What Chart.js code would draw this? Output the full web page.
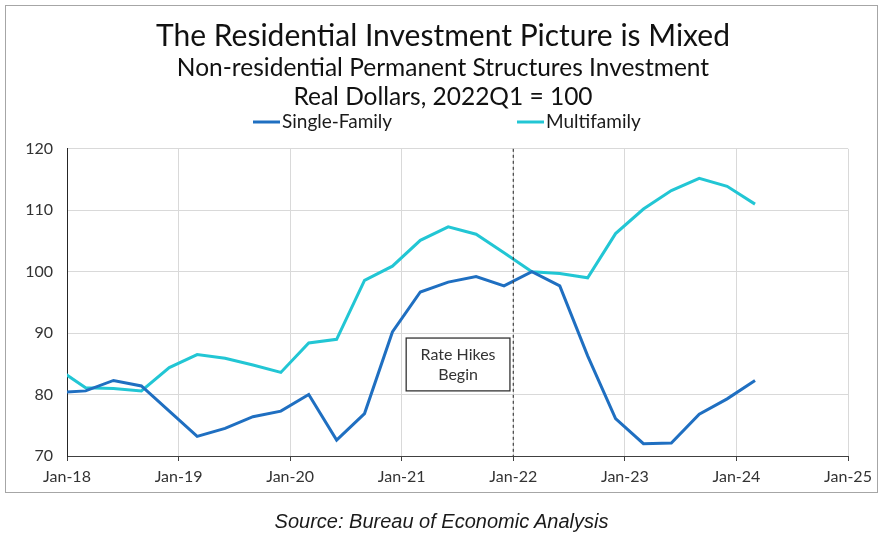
<!DOCTYPE html>
<html>
<head>
<meta charset="utf-8">
<script src="https://cdn.jsdelivr.net/npm/chart.js@4"></script>
<style>
  html, body { margin: 0; padding: 0; background: #fff; }
  #wrap { position: relative; width: 883px; height: 545px; }
  #chart { position: absolute; left: 0; top: 0; }
  #source {
    position: absolute; left: 0; top: 510px; width: 883px; text-align: center;
    font: italic 20px "Liberation Sans", Arial, sans-serif; color: #1a1a1a;
  }
</style>
</head>
<body>
<div id="wrap">
  <canvas id="chart" width="883" height="545"></canvas>
  <div id="source">Source: Bureau of Economic Analysis</div>
</div>
<script>
(function () {
  "use strict";

  // quarterly data, 2022Q1 = 100
  const quarters = [
    "2017Q4",
    "2018Q1", "2018Q2", "2018Q3", "2018Q4",
    "2019Q1", "2019Q2", "2019Q3", "2019Q4",
    "2020Q1", "2020Q2", "2020Q3", "2020Q4",
    "2021Q1", "2021Q2", "2021Q3", "2021Q4",
    "2022Q1", "2022Q2", "2022Q3", "2022Q4",
    "2023Q1", "2023Q2", "2023Q3", "2023Q4",
    "2024Q1"
  ];
  const singleFamily = [
    80.3,
    80.6, 82.3, 81.4, 77.3,
    73.2, 74.5, 76.4, 77.3,
    80.0, 72.6, 76.9, 90.2,
    96.7, 98.3, 99.2, 97.7,
    100.0, 97.7, 86.3, 76.1,
    72.0, 72.1, 76.8, 79.3,
    82.3
  ];
  const multifamily = [
    84.2,
    81.1, 81.0, 80.6, 84.4,
    86.5, 85.9, 84.8, 83.6,
    88.4, 89.0, 98.6, 100.9,
    105.1, 107.3, 106.1, 103.1,
    100.0, 99.7, 99.0, 106.2,
    110.2, 113.2, 115.2, 113.9,
    111.0
  ];
  const yearTicks = [2018, 2019, 2020, 2021, 2022, 2023, 2024, 2025];
  const hikeYear = 2022;

  const FONT = "Lato, 'Noto Sans', sans-serif";

  // quarter plotted at its last month (Mar, Jun, Sep, Dec)
  const quarterToX = (label) => {
    const year = parseInt(label.slice(0, 4), 10);
    const q = parseInt(label.slice(5), 10);
    return year + (3 * q - 1) / 12;
  };
  const toPoints = (values) => values.map((v, i) => ({ x: quarterToX(quarters[i]), y: v }));

  const frame = {
    id: "frame",
    beforeDraw(chart) {
      const ctx = chart.ctx;
      ctx.save();
      ctx.strokeStyle = "#a6a6a6";
      ctx.lineWidth = 1;
      ctx.strokeRect(5.5, 5.5, 872, 487);
      ctx.restore();
    },
  };

  const legendLines = {
    id: "legendLines",
    afterDraw(chart) {
      const ctx = chart.ctx;
      const spots = [253, 517];
      ctx.save();
      ctx.font = "19px " + FONT;
      ctx.textBaseline = "middle";
      chart.data.datasets.forEach((ds, i) => {
        const x = spots[i];
        ctx.strokeStyle = ds.borderColor;
        ctx.lineWidth = 3;
        ctx.beginPath();
        ctx.moveTo(x, 122);
        ctx.lineTo(x + 27, 122);
        ctx.stroke();
        ctx.fillStyle = "#1a1a1a";
        ctx.fillText(ds.label, x + 29, 122);
      });
      ctx.restore();
    },
  };

  const rateHikes = {
    id: "rateHikes",
    afterDatasetsDraw(chart) {
      const { ctx, chartArea, scales } = chart;
      const x = scales.x.getPixelForValue(hikeYear);
      ctx.save();
      ctx.strokeStyle = "#404040";
      ctx.lineWidth = 1.2;
      ctx.setLineDash([3, 3]);
      ctx.beginPath();
      ctx.moveTo(x, chartArea.top);
      ctx.lineTo(x, chartArea.bottom);
      ctx.stroke();
      ctx.setLineDash([]);

      const left = scales.x.getPixelForValue(2021.04);
      const right = scales.x.getPixelForValue(2021.97);
      const top = scales.y.getPixelForValue(89.2);
      const bottom = scales.y.getPixelForValue(80.6);
      ctx.fillStyle = "#fff";
      ctx.fillRect(left, top, right - left, bottom - top);
      ctx.strokeStyle = "#333";
      ctx.lineWidth = 1.3;
      ctx.strokeRect(left, top, right - left, bottom - top);
      ctx.fillStyle = "#333";
      ctx.font = "16px " + FONT;
      ctx.textAlign = "center";
      ctx.textBaseline = "middle";
      const cx = (left + right) / 2;
      const cy = (top + bottom) / 2;
      ctx.fillText("Rate Hikes", cx, cy - 10);
      ctx.fillText("Begin", cx, cy + 10);
      ctx.restore();
    },
  };

  const initChart = () => {
    if (!window.Chart) return;
    const ctx = document.getElementById("chart");
    new Chart(ctx, {
      type: "line",
      data: {
        datasets: [
          {
            label: "Single-Family",
            data: toPoints(singleFamily),
            borderColor: "#1f6fc1",
            borderWidth: 3,
            pointRadius: 0,
            tension: 0,
            clip: { left: 0, top: false, right: false, bottom: false },
          },
          {
            label: "Multifamily",
            data: toPoints(multifamily),
            borderColor: "#22c6d4",
            borderWidth: 3,
            pointRadius: 0,
            tension: 0,
            clip: { left: 0, top: false, right: false, bottom: false },
          },
        ],
      },
      options: {
        responsive: false,
        animation: false,
        // small right padding so the titles are centred on the page;
        // the empty right axis keeps the plot's right edge in place
        layout: { padding: { top: 0, left: 6, right: 3, bottom: 52 } },
        plugins: {
          legend: { display: false },
          tooltip: { enabled: false },
          title: {
            display: true,
            text: "The Residential Investment Picture is Mixed",
            color: "#111",
            font: { family: FONT, size: 30, weight: "normal", lineHeight: 1.2 },
            padding: { top: 18, bottom: 0 },
          },
          subtitle: {
            display: true,
            text: ["Non-residential Permanent Structures Investment", "Real Dollars, 2022Q1 = 100"],
            color: "#111",
            font: { family: FONT, size: 24.5, weight: "normal", lineHeight: 1.18 },
            padding: { top: 0, bottom: 37 },
          },
        },
        scales: {
          x: {
            type: "linear",
            min: yearTicks[0],
            max: yearTicks[yearTicks.length - 1],
            afterBuildTicks: (scale) => {
              scale.ticks = yearTicks.map((v) => ({ value: v }));
            },
            afterFit: (scale) => { scale.height = 37; },
            grid: { color: "#d9d9d9", tickColor: "#404040", tickLength: 5 },
            border: { color: "#404040", width: 1 },
            ticks: {
              color: "#333",
              font: { family: FONT, size: 16 },
              padding: 6,
              maxRotation: 0,
              callback: (v) => "Jan-" + String(v).slice(2),
            },
          },
          y: {
            min: 70,
            max: 120,
            afterFit: (scale) => { scale.width = 61; },
            grid: { color: "#d9d9d9", drawTicks: false },
            border: { color: "#262626", width: 1 },
            ticks: {
              stepSize: 10,
              color: "#333",
              font: { family: FONT, size: 16 },
              padding: 14,
            },
          },
          yRight: {
            position: "right",
            afterFit: (scale) => { scale.width = 32; },
            grid: { display: false },
            border: { display: false },
            ticks: { display: false },
          },
        },
      },
      plugins: [frame, legendLines, rateHikes],
    });
  };

  document.addEventListener("DOMContentLoaded", initChart);
})();
</script>
</body>
</html>
